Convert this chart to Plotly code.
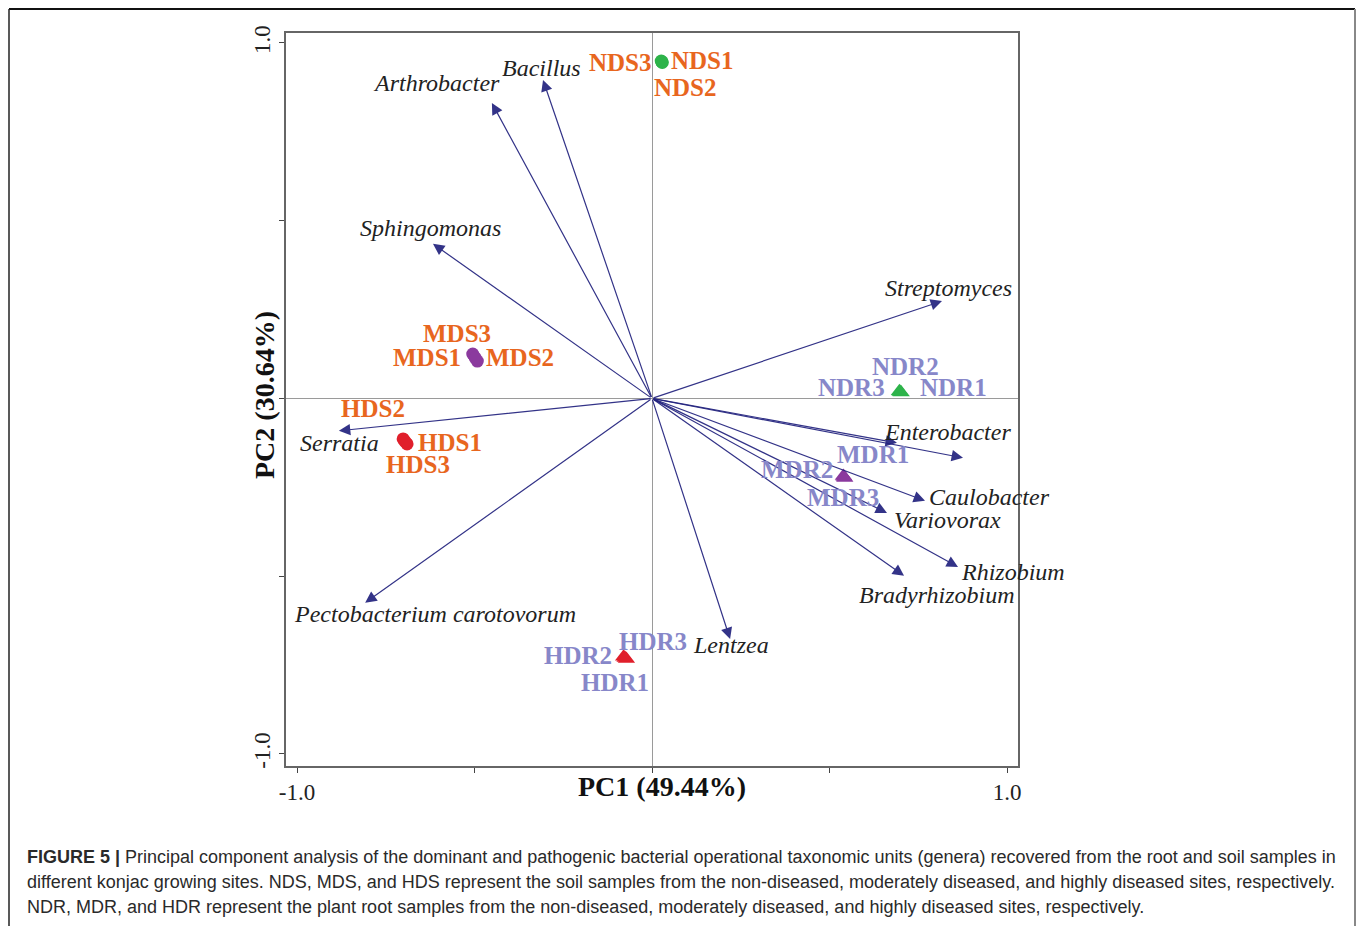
import plotly.graph_objects as go

# ---------------- data ----------------
species = ["Arthrobacter", "Bacillus", "Sphingomonas", "Streptomyces", "Serratia",
           "Enterobacter", "Pseudomonas", "Caulobacter", "Variovorax", "Rhizobium",
           "Bradyrhizobium", "Lentzea", "Pectobacterium carotovorum"]
sp_x = [-0.451, -0.307, -0.617, 0.817, -0.882, 0.690, 0.876, 0.769, 0.662, 0.862, 0.710, 0.220, -0.808]
sp_y = [0.831, 0.896, 0.435, 0.274, -0.091, -0.125, -0.167, -0.288, -0.322, -0.474, -0.499, -0.677, -0.575]
sp_lx = [-0.606, -0.310, -0.625, 0.834, -0.879, 0.831, 1.070, 0.952, 0.831, 1.017, 0.803, 0.222, -0.611]
sp_ly = [0.888, 0.930, 0.480, 0.311, -0.125, -0.094, -0.173, -0.277, -0.342, -0.488, -0.553, -0.693, -0.606]

# sample points (three replicates per group)
nds_x = [0.026, 0.029, 0.028]; nds_y = [0.949, 0.945, 0.947]
mds_x = [-0.505, -0.492, -0.498]; mds_y = [0.125, 0.105, 0.114]
hds_x = [-0.701, -0.690, -0.696]; hds_y = [-0.114, -0.128, -0.121]
ndr_x = [0.697, 0.702, 0.699]; ndr_y = [0.020, 0.017, 0.018]
mdr_x = [0.539, 0.543, 0.541]; mdr_y = [-0.218, -0.224, -0.221]
hdr_x = [-0.080, -0.072, -0.076]; hdr_y = [-0.727, -0.733, -0.730]

soil_labels = ["NDS3", "NDS1", "NDS2", "MDS3", "MDS1", "MDS2", "HDS2", "HDS1", "HDS3"]
soil_lx = [-0.090, 0.141, 0.093, -0.549, -0.634, -0.372, -0.786, -0.569, -0.659]
soil_ly = [0.944, 0.950, 0.876, 0.184, 0.114, 0.114, -0.027, -0.125, -0.187]
root_labels = ["NDR2", "NDR3", "NDR1", "MDR1", "MDR2", "MDR3", "HDR3", "HDR2", "HDR1"]
root_lx = [0.713, 0.563, 0.848, 0.623, 0.408, 0.538, 0.003, -0.208, -0.104]
root_ly = [0.089, 0.030, 0.032, -0.159, -0.201, -0.280, -0.685, -0.722, -0.800]

x_ticks = [-1.0, -0.5, 0.0, 0.5, 1.0]
x_ticktext = ["-1.0", "", "", "", "1.0"]
y_ticks = [-1.0, -0.5, 0.0, 0.5, 1.0]
y_ticktext = ["-1.0", "", "", "", "1.0"]

caption = [
    "<b>FIGURE 5 |</b> Principal component analysis of the dominant and pathogenic bacterial operational taxonomic units (genera) recovered from the root and soil samples in",
    "different konjac growing sites. NDS, MDS, and HDS represent the soil samples from the non-diseased, moderately diseased, and highly diseased sites, respectively.",
    "NDR, MDR, and HDR represent the plant root samples from the non-diseased, moderately diseased, and highly diseased sites, respectively.",
]

# ---------------- layout geometry ----------------
W, H = 1362, 926
L, R, T, B = 286, 1018, 33, 766
XR = [-1.031, 1.031]
YR = [-1.034, 1.028]

def px(xp):
    return (xp - L) / (R - L)

def py(yp):
    return (B - yp) / (B - T)

ORANGE = "#E8661E"
LAV = "#8787C9"
NAVY = "#22227E"
SERIF = "Liberation Serif, Times New Roman, serif"
SANS = "Liberation Sans, Arial, sans-serif"

fig = go.Figure()

circ = dict(symbol="circle", size=13, line=dict(width=0))
tri = dict(symbol="triangle-up", size=15, line=dict(width=0))
fig.add_trace(go.Scatter(x=nds_x, y=nds_y, mode="markers", marker=dict(color="#2DB34A", **circ), hoverinfo="skip"))
fig.add_trace(go.Scatter(x=mds_x, y=mds_y, mode="markers", marker=dict(color="#8B3A9E", **circ), hoverinfo="skip"))
fig.add_trace(go.Scatter(x=hds_x, y=hds_y, mode="markers", marker=dict(color="#E01F2B", **circ), hoverinfo="skip"))
fig.add_trace(go.Scatter(x=ndr_x, y=ndr_y, mode="markers", marker=dict(color="#2DB34A", **tri), hoverinfo="skip"))
fig.add_trace(go.Scatter(x=mdr_x, y=mdr_y, mode="markers", marker=dict(color="#8B3A9E", **tri), hoverinfo="skip"))
fig.add_trace(go.Scatter(x=hdr_x, y=hdr_y, mode="markers", marker=dict(color="#E01F2B", **tri), hoverinfo="skip"))

annotations = []
# arrows
for sx, sy in zip(sp_x, sp_y):
    annotations.append(dict(x=sx, y=sy, ax=0, ay=0, xref="x", yref="y", axref="x", ayref="y",
                            text="", showarrow=True, arrowhead=2, arrowsize=1.9, arrowwidth=1.2,
                            arrowcolor=NAVY, opacity=0.92))
# species labels
for name, lx, ly in zip(species, sp_lx, sp_ly):
    annotations.append(dict(x=lx, y=ly, xref="x", yref="y", text="<i>" + name + "</i>", showarrow=False,
                            font=dict(family=SERIF, size=24, color="#222222")))
for name, lx, ly in zip(soil_labels, soil_lx, soil_ly):
    annotations.append(dict(x=lx, y=ly, xref="x", yref="y", text="<b>" + name + "</b>", showarrow=False,
                            font=dict(family=SERIF, size=25, color=ORANGE)))
for name, lx, ly in zip(root_labels, root_lx, root_ly):
    annotations.append(dict(x=lx, y=ly, xref="x", yref="y", text="<b>" + name + "</b>", showarrow=False,
                            font=dict(family=SERIF, size=25, color=LAV)))

# axis titles
annotations.append(dict(x=px(662), y=py(786), xref="paper", yref="paper", text="<b>PC1 (49.44%)</b>",
                        showarrow=False, xanchor="center", yanchor="middle",
                        font=dict(family=SERIF, size=28, color="#111111")))
annotations.append(dict(x=px(265), y=py(395), xref="paper", yref="paper", text="<b>PC2 (30.64%)</b>",
                        showarrow=False, textangle=-90, xanchor="center", yanchor="middle",
                        font=dict(family=SERIF, size=28, color="#111111")))

# caption
for i, line in enumerate(caption):
    annotations.append(dict(x=px(25), y=py(857 + 25 * i), xref="paper", yref="paper", text=line,
                            showarrow=False, xanchor="left", yanchor="middle",
                            font=dict(family=SANS, size=18, color="#2a2a2a")))

shapes = [
    dict(type="line", xref="paper", yref="paper", x0=px(9), x1=px(1355), y0=py(9), y1=py(9),
         line=dict(color="#111111", width=2)),
    dict(type="line", xref="paper", yref="paper", x0=px(9), x1=px(9), y0=py(9), y1=py(930),
         line=dict(color="#222222", width=1.5)),
    dict(type="line", xref="paper", yref="paper", x0=px(1355), x1=px(1355), y0=py(9), y1=py(930),
         line=dict(color="#888888", width=2)),
]

axis_common = dict(showgrid=False, showline=True, linecolor="#666666", linewidth=1.5, mirror=True,
                   ticks="outside", ticklen=5, tickcolor="#444444", tickwidth=1.2,
                   zeroline=True, zerolinecolor="#9a9a9a", zerolinewidth=1.2,
                   tickfont=dict(family=SERIF, size=23, color="#222222"))

fig.update_layout(
    width=W, height=H,
    margin=dict(l=L, r=W - R, t=T, b=H - B, autoexpand=False),
    paper_bgcolor="white", plot_bgcolor="white",
    showlegend=False,
    xaxis=dict(range=XR, tickvals=x_ticks, ticktext=x_ticktext, **axis_common),
    yaxis=dict(range=YR, tickvals=y_ticks, ticktext=y_ticktext, tickangle=-90, **axis_common),
    annotations=annotations,
    shapes=shapes,
)

fig.write_html("out.html")
